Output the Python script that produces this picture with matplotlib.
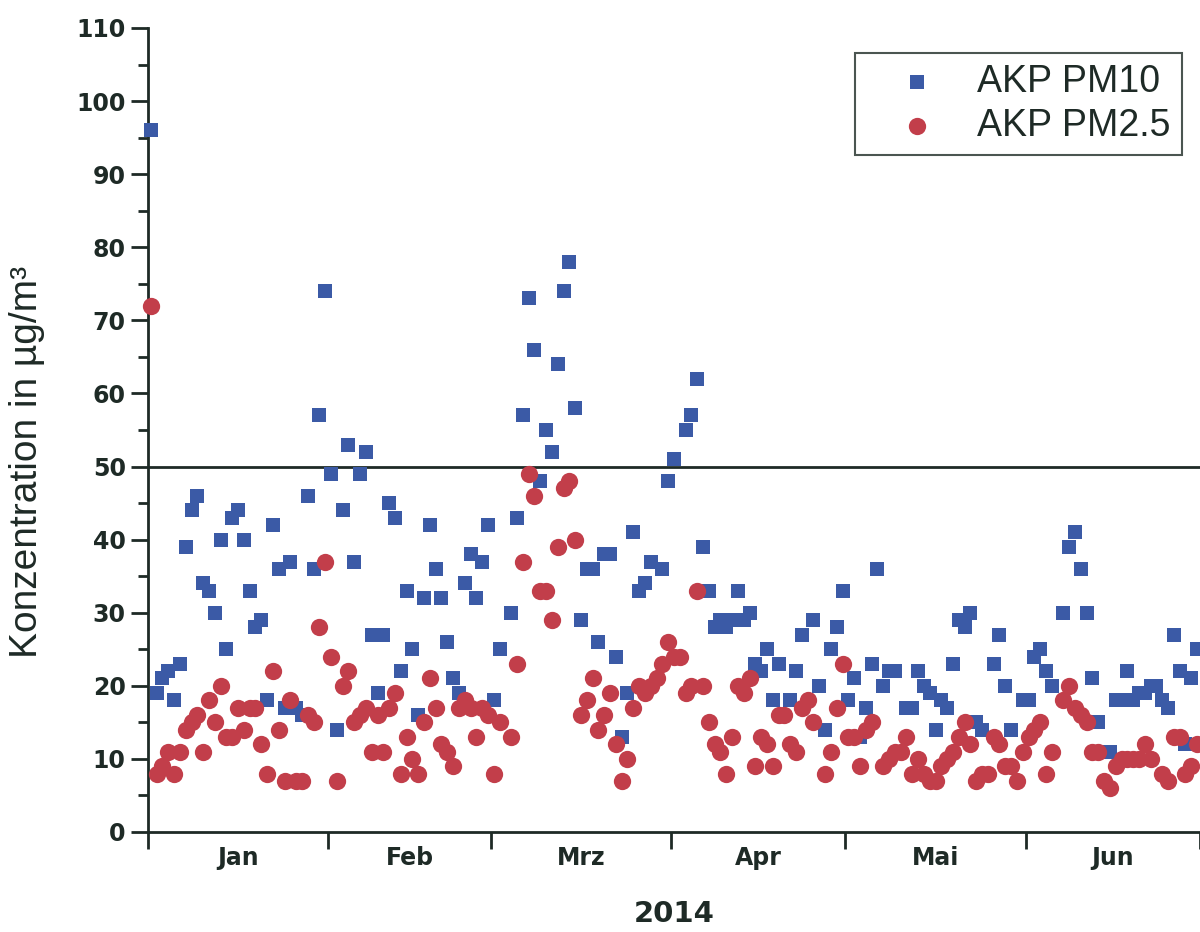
import numpy as np
import pandas as pd
import matplotlib
matplotlib.use("Agg")
import matplotlib.pyplot as plt
from matplotlib.ticker import MultipleLocator, FixedLocator, NullFormatter

# daily means, 1 Jan 2014 .. 30 Jun 2014 (None = no value)
pm10 = [
    96, 19, 21, 22, 18, 23, 39, 44, 46, 34,
    33, 30, 40, 25, 43, 44, 40, 33, 28, 29,
    18, 42, 36, 17, 37, 17, 16, 46, 36, 57,
    74, 49, 14, 44, 53, 37, 49, 52, 27, 19,
    27, 45, 43, 22, 33, 25, 16, 32, 42, 36,
    32, 26, 21, 19, 34, 38, 32, 37, 42, 18,
    25, None, 30, 43, 57, 73, 66, 48, 55, 52,
    64, 74, 78, 58, 29, 36, 36, 26, 38, 38,
    24, 13, 19, 41, 33, 34, 37, None, 36, 48,
    51, None, 55, 57, 62, 39, 33, 28, 29, 28,
    29, 33, 29, 30, 23, 22, 25, 18, 23, None,
    18, 22, 27, None, 29, 20, 14, 25, 28, 33,
    18, 21, 13, 17, 23, 36, 20, 22, 22, None,
    17, 17, 22, 20, 19, 14, 18, 17, 23, 29,
    28, 30, 15, 14, None, 23, 27, 20, 14, None,
    18, 18, 24, 25, 22, 20, None, 30, 39, 41,
    36, 30, 21, 15, None, 11, 18, 18, 22, 18,
    19, 19, 20, 20, 18, 17, 27, 22, 12, 21,
    25,
]
pm25 = [
    72, 8, 9, 11, 8, 11, 14, 15, 16, 11,
    18, 15, 20, 13, 13, 17, 14, 17, 17, 12,
    8, 22, 14, 7, 18, 7, 7, 16, 15, 28,
    37, 24, 7, 20, 22, 15, 16, 17, 11, 16,
    11, 17, 19, 8, 13, 10, 8, 15, 21, 17,
    12, 11, 9, 17, 18, 17, 13, 17, 16, 8,
    15, None, 13, 23, 37, 49, 46, 33, 33, 29,
    39, 47, 48, 40, 16, 18, 21, 14, 16, 19,
    12, 7, 10, 17, 20, 19, 20, 21, 23, 26,
    24, 24, 19, 20, 33, 20, 15, 12, 11, 8,
    13, 20, 19, 21, 9, 13, 12, 9, 16, 16,
    12, 11, 17, 18, 15, None, 8, 11, 17, 23,
    13, 13, 9, 14, 15, None, 9, 10, 11, 11,
    13, 8, 10, 8, 7, 7, 9, 10, 11, 13,
    15, 12, 7, 8, 8, 13, 12, 9, 9, 7,
    11, 13, 14, 15, 8, 11, None, 18, 20, 17,
    16, 15, 11, 11, 7, 6, 9, 10, 10, 10,
    10, 12, 10, None, 8, 7, 13, 13, 8, 9,
    12,
]
months = ["Jan", "Feb", "Mrz", "Apr", "Mai", "Jun"]
month_days = [31, 28, 31, 30, 31, 30]
limit = 50

df = pd.DataFrame({"PM10": pm10, "PM25": pm25}).astype(float)
day = df.index.values + 0.5          # plotted at midday
month_start = np.concatenate([[0], np.cumsum(month_days)])
month_mid = (month_start[:-1] + month_start[1:]) / 2

fig = plt.figure(figsize=(12, 9.32), dpi=100)
ax = fig.add_axes([0.1233, 0.1073, 0.8767, 0.8627])

dark = "#1e2a26"
blue = "#3b5aa6"
red = "#c23e4a"
ax.scatter(day, df["PM10"], marker="s", s=115, color=blue, linewidths=0,
           zorder=3, clip_on=False, label="AKP PM10")
ax.scatter(day, df["PM25"], marker="o", s=155, color=red, linewidths=0,
           zorder=4, clip_on=False, label="AKP PM2.5")
ax.axhline(limit, color=dark, lw=2, zorder=2)

ax.set_xlim(month_start[0], month_start[-1])
ax.set_ylim(0, 110)
ax.yaxis.set_major_locator(MultipleLocator(10))
ax.yaxis.set_minor_locator(MultipleLocator(5))

ax.xaxis.set_major_locator(FixedLocator(month_start))
ax.xaxis.set_major_formatter(NullFormatter())
ax.xaxis.set_minor_locator(FixedLocator(month_mid))
ax.set_xticklabels(months, minor=True)

for sp in ["top", "right"]:
    ax.spines[sp].set_visible(False)
for sp in ["left", "bottom"]:
    ax.spines[sp].set_linewidth(2)
    ax.spines[sp].set_color(dark)

ax.tick_params(axis="y", which="major", direction="out", length=12, width=2,
               color=dark, labelsize=17, pad=4)
ax.tick_params(axis="y", which="minor", direction="out", length=7, width=2,
               color=dark)
ax.tick_params(axis="x", which="major", direction="out", length=12, width=2,
               color=dark)
ax.tick_params(axis="x", which="minor", length=0, labelsize=17, pad=10)
for lab in ax.get_yticklabels() + ax.get_xticklabels(minor=True):
    lab.set_fontweight("bold")
    lab.set_color(dark)

ax.set_xlabel("2014", fontsize=21, fontweight="bold", color=dark, labelpad=22)
ax.set_ylabel("Konzentration in µg/m³", fontsize=28, color=dark,
              family=["Liberation Sans", "DejaVu Sans"])
ax.yaxis.set_label_coords(-0.098, 0.46)

leg = ax.legend(loc="upper right", bbox_to_anchor=(0.983, 0.969),
                frameon=True, fancybox=False, edgecolor=dark,
                handlelength=2.7, handletextpad=0.25, borderpad=0.3,
                labelspacing=0.2, borderaxespad=0, markerscale=1.0,
                prop={"family": ["Liberation Sans", "DejaVu Sans"], "size": 27})
leg.get_frame().set_linewidth(1.5)
for t in leg.get_texts():
    t.set_color(dark)

fig.savefig("out.png", dpi=100)
